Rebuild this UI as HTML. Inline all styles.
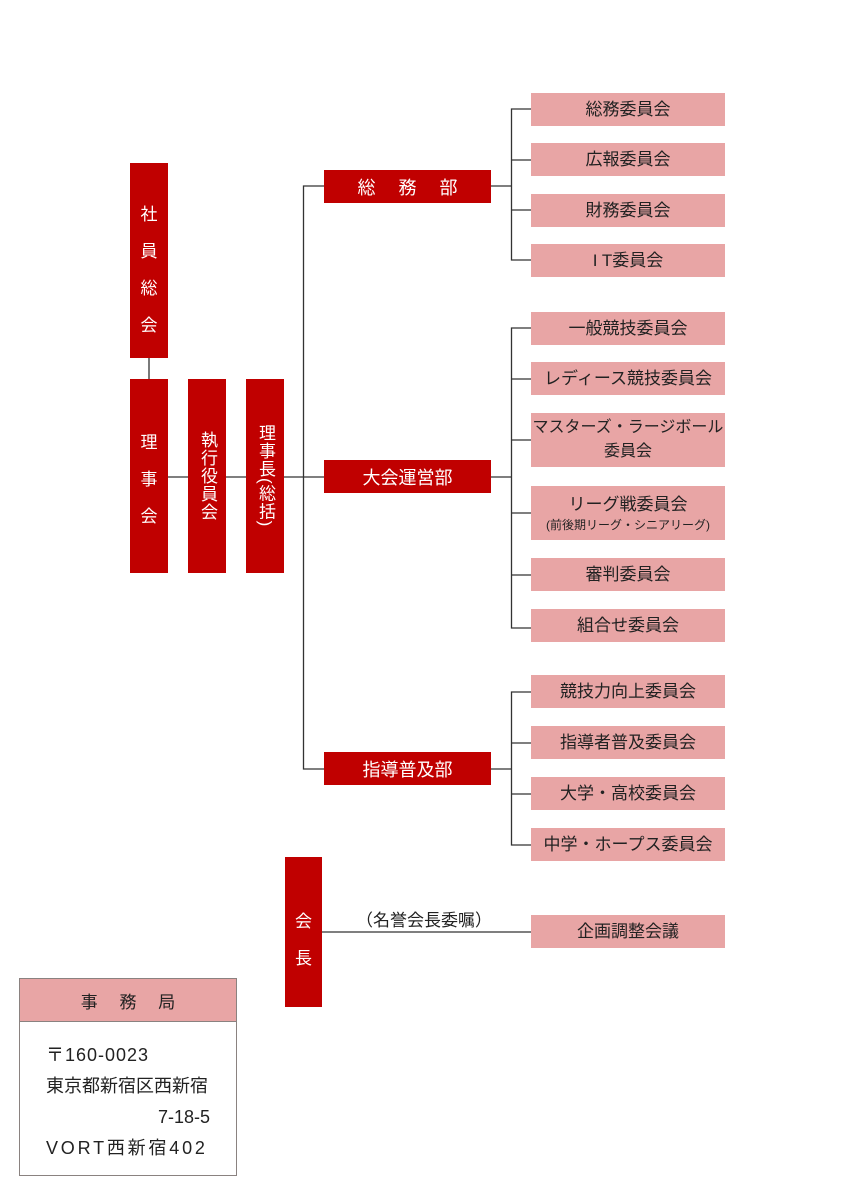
<!DOCTYPE html>
<html><head><meta charset="utf-8"><style>
body{margin:0;width:842px;height:1191px;position:relative;background:#fff;font-family:"Liberation Sans","Noto Sans CJK JP",sans-serif;overflow:hidden}
.r{position:absolute;background:#c00000;color:#fff;box-sizing:border-box}
.p{position:absolute;background:#e8a5a5;color:#222;left:531px;width:194px;height:33px;font-size:17px;display:flex;align-items:center;justify-content:center;text-align:center;line-height:24px}
.d{left:324px;width:167px;height:33px;font-size:18px;display:flex;align-items:center;justify-content:center}
.v{display:flex;flex-direction:column;align-items:center;font-size:17px}
.vt{writing-mode:vertical-rl;font-size:17px;display:flex;align-items:center;justify-content:center;line-height:38px}
.t{position:absolute;font-size:17px;color:#222}
</style></head><body>
<svg width="842" height="1191" style="position:absolute;left:0;top:0">
<g stroke="#333" stroke-width="1.3" fill="none">
<line x1="149" y1="358" x2="149" y2="379"/>
<line x1="168" y1="477" x2="324" y2="477"/>
<polyline points="324,186 303.5,186 303.5,769 324,769"/>
<line x1="491" y1="186" x2="511" y2="186"/>
<line x1="491" y1="477" x2="511" y2="477"/>
<line x1="491" y1="769" x2="511" y2="769"/>
<polyline points="531,109 511.5,109 511.5,260 531,260"/>
<line x1="511" y1="160" x2="531" y2="160"/>
<line x1="511" y1="210" x2="531" y2="210"/>
<polyline points="531,328 511.5,328 511.5,628 531,628"/>
<line x1="511" y1="379" x2="531" y2="379"/>
<line x1="511" y1="440" x2="531" y2="440"/>
<line x1="511" y1="513" x2="531" y2="513"/>
<line x1="511" y1="575" x2="531" y2="575"/>
<polyline points="531,692 511.5,692 511.5,845 531,845"/>
<line x1="511" y1="743" x2="531" y2="743"/>
<line x1="511" y1="794" x2="531" y2="794"/>
<line x1="322" y1="932" x2="531" y2="932"/>
</g></svg>
<div class="r v" style="left:130px;top:163px;width:38px;height:195px;padding-top:33px;line-height:37px">社<br>員<br>総<br>会</div>
<div class="r v" style="left:130px;top:379px;width:38px;height:194px;padding-top:45px;line-height:37px">理<br>事<br>会</div>
<div class="r vt" style="left:188px;top:379px;width:38px;height:194px;letter-spacing:1px">執行役員会</div>
<div class="r vt" style="left:246px;top:379px;width:38px;height:194px;letter-spacing:1px">理事長(総括)</div>
<div class="r d" style="top:170px">総　 務　 部</div>
<div class="r d" style="top:460px">大会運営部</div>
<div class="r d" style="top:752px">指導普及部</div>
<div class="p" style="top:93px">総務委員会</div>
<div class="p" style="top:143px">広報委員会</div>
<div class="p" style="top:194px">財務委員会</div>
<div class="p" style="top:244px">I T委員会</div>
<div class="p" style="top:312px">一般競技委員会</div>
<div class="p" style="top:362px">レディース競技委員会</div>
<div class="p" style="top:413px;height:54px;font-size:16px">マスターズ・ラージボール<br>委員会</div>
<div class="p" style="top:486px;height:54px;flex-direction:column"><span>リーグ戦委員会</span><span style="font-size:12px;line-height:16px">(前後期リーグ・シニアリーグ)</span></div>
<div class="p" style="top:558px">審判委員会</div>
<div class="p" style="top:609px">組合せ委員会</div>
<div class="p" style="top:675px">競技力向上委員会</div>
<div class="p" style="top:726px">指導者普及委員会</div>
<div class="p" style="top:777px">大学・高校委員会</div>
<div class="p" style="top:828px">中学・ホープス委員会</div>
<div class="p" style="top:915px">企画調整会議</div>
<div class="r v" style="left:285px;top:857px;width:37px;height:150px;padding-top:46px;line-height:37px">会<br>長</div>
<div class="t" style="left:356px;top:906px">（名誉会長委嘱）</div>
<div style="position:absolute;left:19px;top:978px;width:218px;height:198px;border:1.5px solid #8a8280;box-sizing:border-box">
<div style="background:#e8a5a5;height:42px;border-bottom:1.5px solid #8a8280;display:flex;align-items:center;justify-content:center;font-size:17px;color:#222">事　 務　 局</div>
<div style="position:absolute;left:26px;top:61px;font-size:18px;color:#222;line-height:31px;width:164px">
<span style="letter-spacing:1px">〒160-0023</span><br>東京都新宿区西新宿<br><div style="text-align:right">7-18-5</div><span style="letter-spacing:2.8px">VORT西新宿402</span></div>
</div>
</body></html>
